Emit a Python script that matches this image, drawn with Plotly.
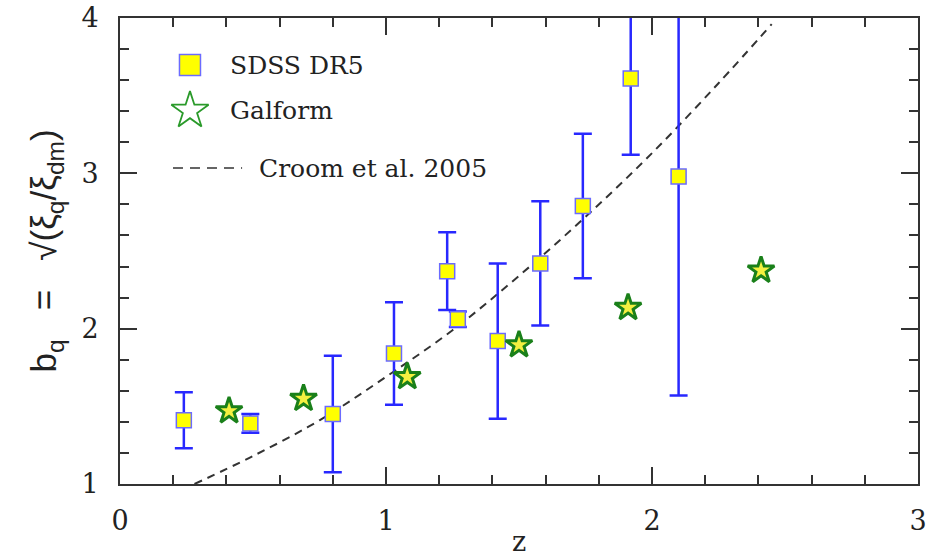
import plotly.graph_objects as go

# ---- data ----
sdss_z = [0.24, 0.49, 0.80, 1.03, 1.23, 1.27, 1.42, 1.58, 1.74, 1.92, 2.10]
sdss_b = [1.41, 1.39, 1.45, 1.84, 2.37, 2.06, 1.92, 2.42, 2.79, 3.61, 2.98]
sdss_err = [0.18, 0.06, 0.375, 0.33, 0.25, 0.05, 0.50, 0.40, 0.465, 0.49, 1.41]

galform_z = [0.41, 0.69, 1.08, 1.50, 1.91, 2.41]
galform_b = [1.47, 1.55, 1.69, 1.895, 2.135, 2.375]

croom_z = [0.28, 0.50, 0.75, 1.00, 1.25, 1.50, 1.75, 2.00, 2.25, 2.45]
croom_b = [1.00, 1.18, 1.41, 1.69, 1.99, 2.34, 2.72, 3.13, 3.58, 3.96]

x_ticks = [0, 1, 2, 3]
y_ticks = [1, 2, 3, 4]

legend_labels = ["SDSS DR5", "Galform", "Croom et al. 2005"]

SERIF = "DejaVu Serif"
AXC = "#333333"

fig = go.Figure()

fig.add_trace(go.Scatter(
    x=croom_z, y=croom_b, mode="lines",
    line=dict(color="#333333", width=2, dash="8px,6px", shape="spline"),
    showlegend=False, hoverinfo="skip"))

fig.add_trace(go.Scatter(
    x=sdss_z, y=sdss_b, mode="markers",
    marker=dict(symbol="square", size=15, color="#ffff00",
                line=dict(color="#6b6bff", width=1.5)),
    error_y=dict(type="data", array=sdss_err, visible=True,
                 color="#2828ff", thickness=2.5, width=9),
    showlegend=False))

fig.add_trace(go.Scatter(
    x=galform_z, y=galform_b, mode="markers",
    marker=dict(symbol="star", size=20, color="#f4f040",
                line=dict(color="#1a801a", width=3)),
    showlegend=False))

# ---- manual legend on an overlay (paper-like) axis pair ----
fig.add_trace(go.Scatter(
    x=[0.0877], y=[0.899], mode="markers", xaxis="x2", yaxis="y2",
    marker=dict(symbol="square", size=21, color="#ffff00",
                line=dict(color="#6b6bff", width=1.5)),
    showlegend=False, hoverinfo="skip"))
fig.add_trace(go.Scatter(
    x=[0.0877], y=[0.801], mode="markers", xaxis="x2", yaxis="y2",
    marker=dict(symbol="star-open", size=28, color="#2a9a2a",
                line=dict(color="#2a9a2a", width=1.8)),
    showlegend=False, hoverinfo="skip"))
fig.add_trace(go.Scatter(
    x=[0.0664, 0.153], y=[0.678, 0.678], mode="lines", xaxis="x2", yaxis="y2",
    line=dict(color="#333333", width=1.5, dash="10px,7px"),
    showlegend=False, hoverinfo="skip"))

leg_pos = [(0.1353, 0.899), (0.1353, 0.801), (0.1717, 0.678)]
for (lx, ly), txt in zip(leg_pos, legend_labels):
    fig.add_annotation(x=lx, y=ly, xref="paper", yref="paper", text=txt,
                       showarrow=False, xanchor="left", yanchor="middle",
                       font=dict(family=SERIF, size=25, color="#222222"))

axis_common = dict(
    showline=True, linecolor=AXC, linewidth=2, mirror="allticks",
    ticks="inside", ticklen=17, tickwidth=1.5, tickcolor=AXC,
    showgrid=False, zeroline=False, automargin=False,
    tickfont=dict(family=SERIF, size=27, color="#222222"),
    minor=dict(ticks="inside", ticklen=9, tickwidth=1.5, tickcolor=AXC,
               dtick=0.2, showgrid=False),
)

fig.update_layout(
    width=931, height=557,
    margin=dict(l=120, r=13, t=18, b=73),
    paper_bgcolor="white", plot_bgcolor="white",
    xaxis=dict(range=[0, 3], tickvals=x_ticks, ticktext=[str(v) for v in x_ticks],
               ticklabelstandoff=12,
               title=dict(text="z", font=dict(family=SERIF, size=27, color="#222222"),
                          standoff=6),
               **axis_common),
    yaxis=dict(range=[1, 4], tickvals=y_ticks, ticktext=[str(v) for v in y_ticks],
               ticklabelstandoff=14,
               title=dict(text="b<sub>q</sub>   =   √(ξ<sub>q</sub>/ξ<sub>dm</sub>)",
                          font=dict(family="Liberation Sans", size=35, color="#222222"),
                          standoff=14),
               **axis_common),
    xaxis2=dict(overlaying="x", range=[0, 1], visible=False, fixedrange=True),
    yaxis2=dict(overlaying="y", range=[0, 1], visible=False, fixedrange=True),
)

fig.write_html("out.html")
